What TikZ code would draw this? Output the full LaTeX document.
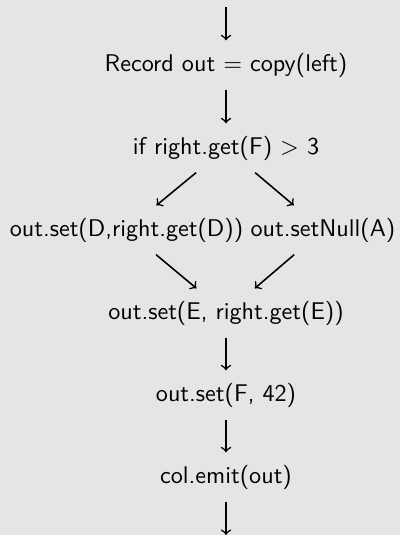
\documentclass[tikz,border=0pt]{standalone}
\usepackage{xcolor}
\definecolor{bg}{RGB}{229,229,229}
\begin{document}
\begin{tikzpicture}[x=0.414pt,y=-0.414pt, font=\sffamily,
  box/.style={inner sep=5pt},
  flow/.style={->, line width=0.65pt}]
\fill[bg] (0,0) rectangle (400,535);
\useasboundingbox (0,0) rectangle (400,535);
\coordinate (top) at (226,7);
\node[box] (rec) at (226,65) {Record out $=$ copy(left)};
\node[box] (cond) at (226,148) {if right.get(F) $>$ 3};
\node[box] (setd) at (126.5,230) {out.set(D,right.get(D))};
\node[box] (null) at (323,230) {out.setNull(A)};
\node[box] (sete) at (226,313) {out.set(E, right.get(E))};
\node[box] (setf) at (226,395) {out.set(F, 42)};
\node[box] (emit) at (226,477) {col.emit(out)};
\coordinate (bot) at (226,535);
\draw[flow] (top) -- (rec);
\draw[flow] (rec) -- (cond);
\draw[flow] (cond) -- (setd);
\draw[flow] (cond) -- (null);
\draw[flow] (setd) -- (sete);
\draw[flow] (null) -- (sete);
\draw[flow] (sete) -- (setf);
\draw[flow] (setf) -- (emit);
\draw[flow] (emit) -- (bot);
\end{tikzpicture}
\end{document}
